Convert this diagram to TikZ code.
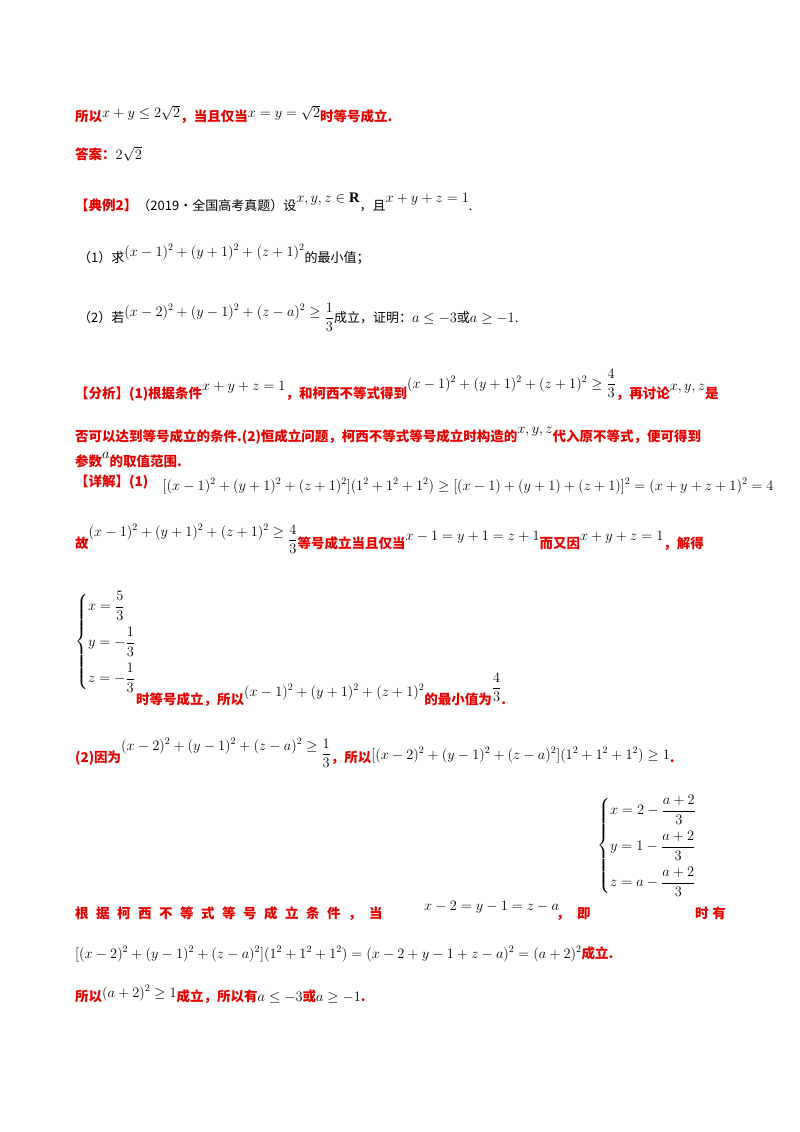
\documentclass[tikz,border=0pt]{standalone}
\usepackage{amsmath,amssymb}
\usepackage{fontspec}
\setmainfont{Liberation Serif}
\newfontfamily\cjk{Noto Sans CJK SC}
\definecolor{rd}{RGB}{230,0,0}
\newcommand\Rt[1]{{\color{rd}\cjk\bfseries\fontsize{13.5}{16}\selectfont #1}}
\newcommand\Kt[1]{{\cjk\fontsize{13}{16}\selectfont #1}}
\newcommand\D{\displaystyle}
\tikzset{ln/.style={anchor=base west,inner sep=0pt,font=\fontsize{14.5}{17}\selectfont},
cs/.style={anchor=west,inner sep=0pt,font=\fontsize{14.5}{17}\selectfont}}
\begin{document}
\begin{tikzpicture}[x=1pt,y=-1pt]
\useasboundingbox[fill=white] (0,0) rectangle (800,1132);
\node[ln] (l1) at (75,121) {\Rt{所以}\raisebox{3pt}{$x+y\le2\sqrt2$}\Rt{，当且仅当}\raisebox{3pt}{$x=y=\sqrt2$}\Rt{时等号成立.}};
\node[ln] (l2) at (75,159) {\Rt{答案：}$2\sqrt2$};
\node[ln] (l3) at (75,210) {\Rt{【典例2】}\Kt{（2019·全国高考真题）设}\raisebox{8pt}{$x,y,z\in\mathbf R$}\Kt{，且}\raisebox{8pt}{$x+y+z=1$}.};
\node[ln] (l4) at (78,262) {\Kt{（1）求}\raisebox{6pt}{$(x-1)^2+(y+1)^2+(z+1)^2$}\Kt{的最小值；}};
\node[ln] (l5) at (78,322) {\Kt{（2）若}\raisebox{6pt}{$(x-2)^2+(y-1)^2+(z-a)^2\ge\raisebox{-6pt}{$\D\frac13$}$}\Kt{成立，证明：}$a\le-3$\Kt{或}$a\ge-1$.};
\node[ln] (l6) at (75,398) {\Rt{【分析】(1)根据条件}\raisebox{8pt}{$x+y+z=1$}\Rt{，和柯西不等式得到}\raisebox{10pt}{$(x-1)^2+(y+1)^2+(z+1)^2\ge\D\frac43$}\Rt{，再讨论}\raisebox{8pt}{$x,y,z$}\Rt{是}};
\node[ln] (l7) at (75,441) {\Rt{否可以达到等号成立的条件.(2)恒成立问题，柯西不等式等号成立时构造的}\raisebox{8pt}{$x,y,z$}\Rt{代入原不等式，便可得到}};
\node[ln] (l8) at (75,466) {\Rt{参数}\raisebox{8pt}{$a$}\Rt{的取值范围.}};
\node[ln] (l9) at (75,486) {\Rt{【详解】(1)}\quad\raisebox{-4pt}{$[(x-1)^2+(y+1)^2+(z+1)^2](1^2+1^2+1^2)\ge[(x-1)+(y+1)+(z+1)]^2=(x+y+z+1)^2=4$}};
\node[ln] (l10) at (75,548) {\Rt{故}\raisebox{12pt}{$(x-1)^2+(y+1)^2+(z+1)^2\ge\raisebox{-8pt}{$\D\frac43$}$}\Rt{等号成立当且仅当}\raisebox{8pt}{$x-1=y+1=z+1$}\Rt{而又因}\raisebox{8pt}{$x+y+z=1$}\Rt{，解得}};
\node[cs] (c1) at (75,642) {$\D\left\{\begin{aligned}&x=\frac53\\[3pt]&y=-\frac13\\[3pt]&z=-\frac13\end{aligned}\right.$};
\node[ln] (l11) at (136,704) {\Rt{时等号成立，所以}\raisebox{8pt}{$(x-1)^2+(y+1)^2+(z+1)^2$}\Rt{的最小值为}\raisebox{12pt}{$\D\frac43$}\Rt{.}};
\node[ln] (l12) at (75,762) {\Rt{(2)因为}\raisebox{12pt}{$(x-2)^2+(y-1)^2+(z-a)^2\ge\raisebox{-8pt}{$\D\frac13$}$}\Rt{，所以}\raisebox{3pt}{$[(x-2)^2+(y-1)^2+(z-a)^2](1^2+1^2+1^2)\ge1$}\Rt{.}};
\node[ln] (l13) at (75,918) {\Rt{根\;\;据\;\;柯\;\;西\;\;不\;\;等\;\;式\;\;等\;\;号\;\;成\;\;立\;\;条\;\;件\;\;，\;\;当}};
\node[ln] (l13m) at (424,910) {$x-2=y-1=z-a$};
\node[ln] (l13c) at (556,918) {\Rt{，\;\;即}};
\node[cs] (c2) at (597,846) {$\D\left\{\begin{aligned}&x=2-\frac{a+2}3\\[3pt]&y=1-\frac{a+2}3\\[3pt]&z=a-\frac{a+2}3\end{aligned}\right.$};
\node[ln] (l13b) at (695,918) {\Rt{时\;有}};
\node[ln] (l14) at (75,958) {$[(x-2)^2+(y-1)^2+(z-a)^2](1^2+1^2+1^2)=(x-2+y-1+z-a)^2=(a+2)^2$\Rt{成立.}};
\node[ln] (l15) at (75,1001) {\Rt{所以}\raisebox{4pt}{$(a+2)^2\ge1$}\Rt{成立，所以有}$a\le-3$\Rt{或}$a\ge-1$\Rt{.}};
\end{tikzpicture}
\end{document}
